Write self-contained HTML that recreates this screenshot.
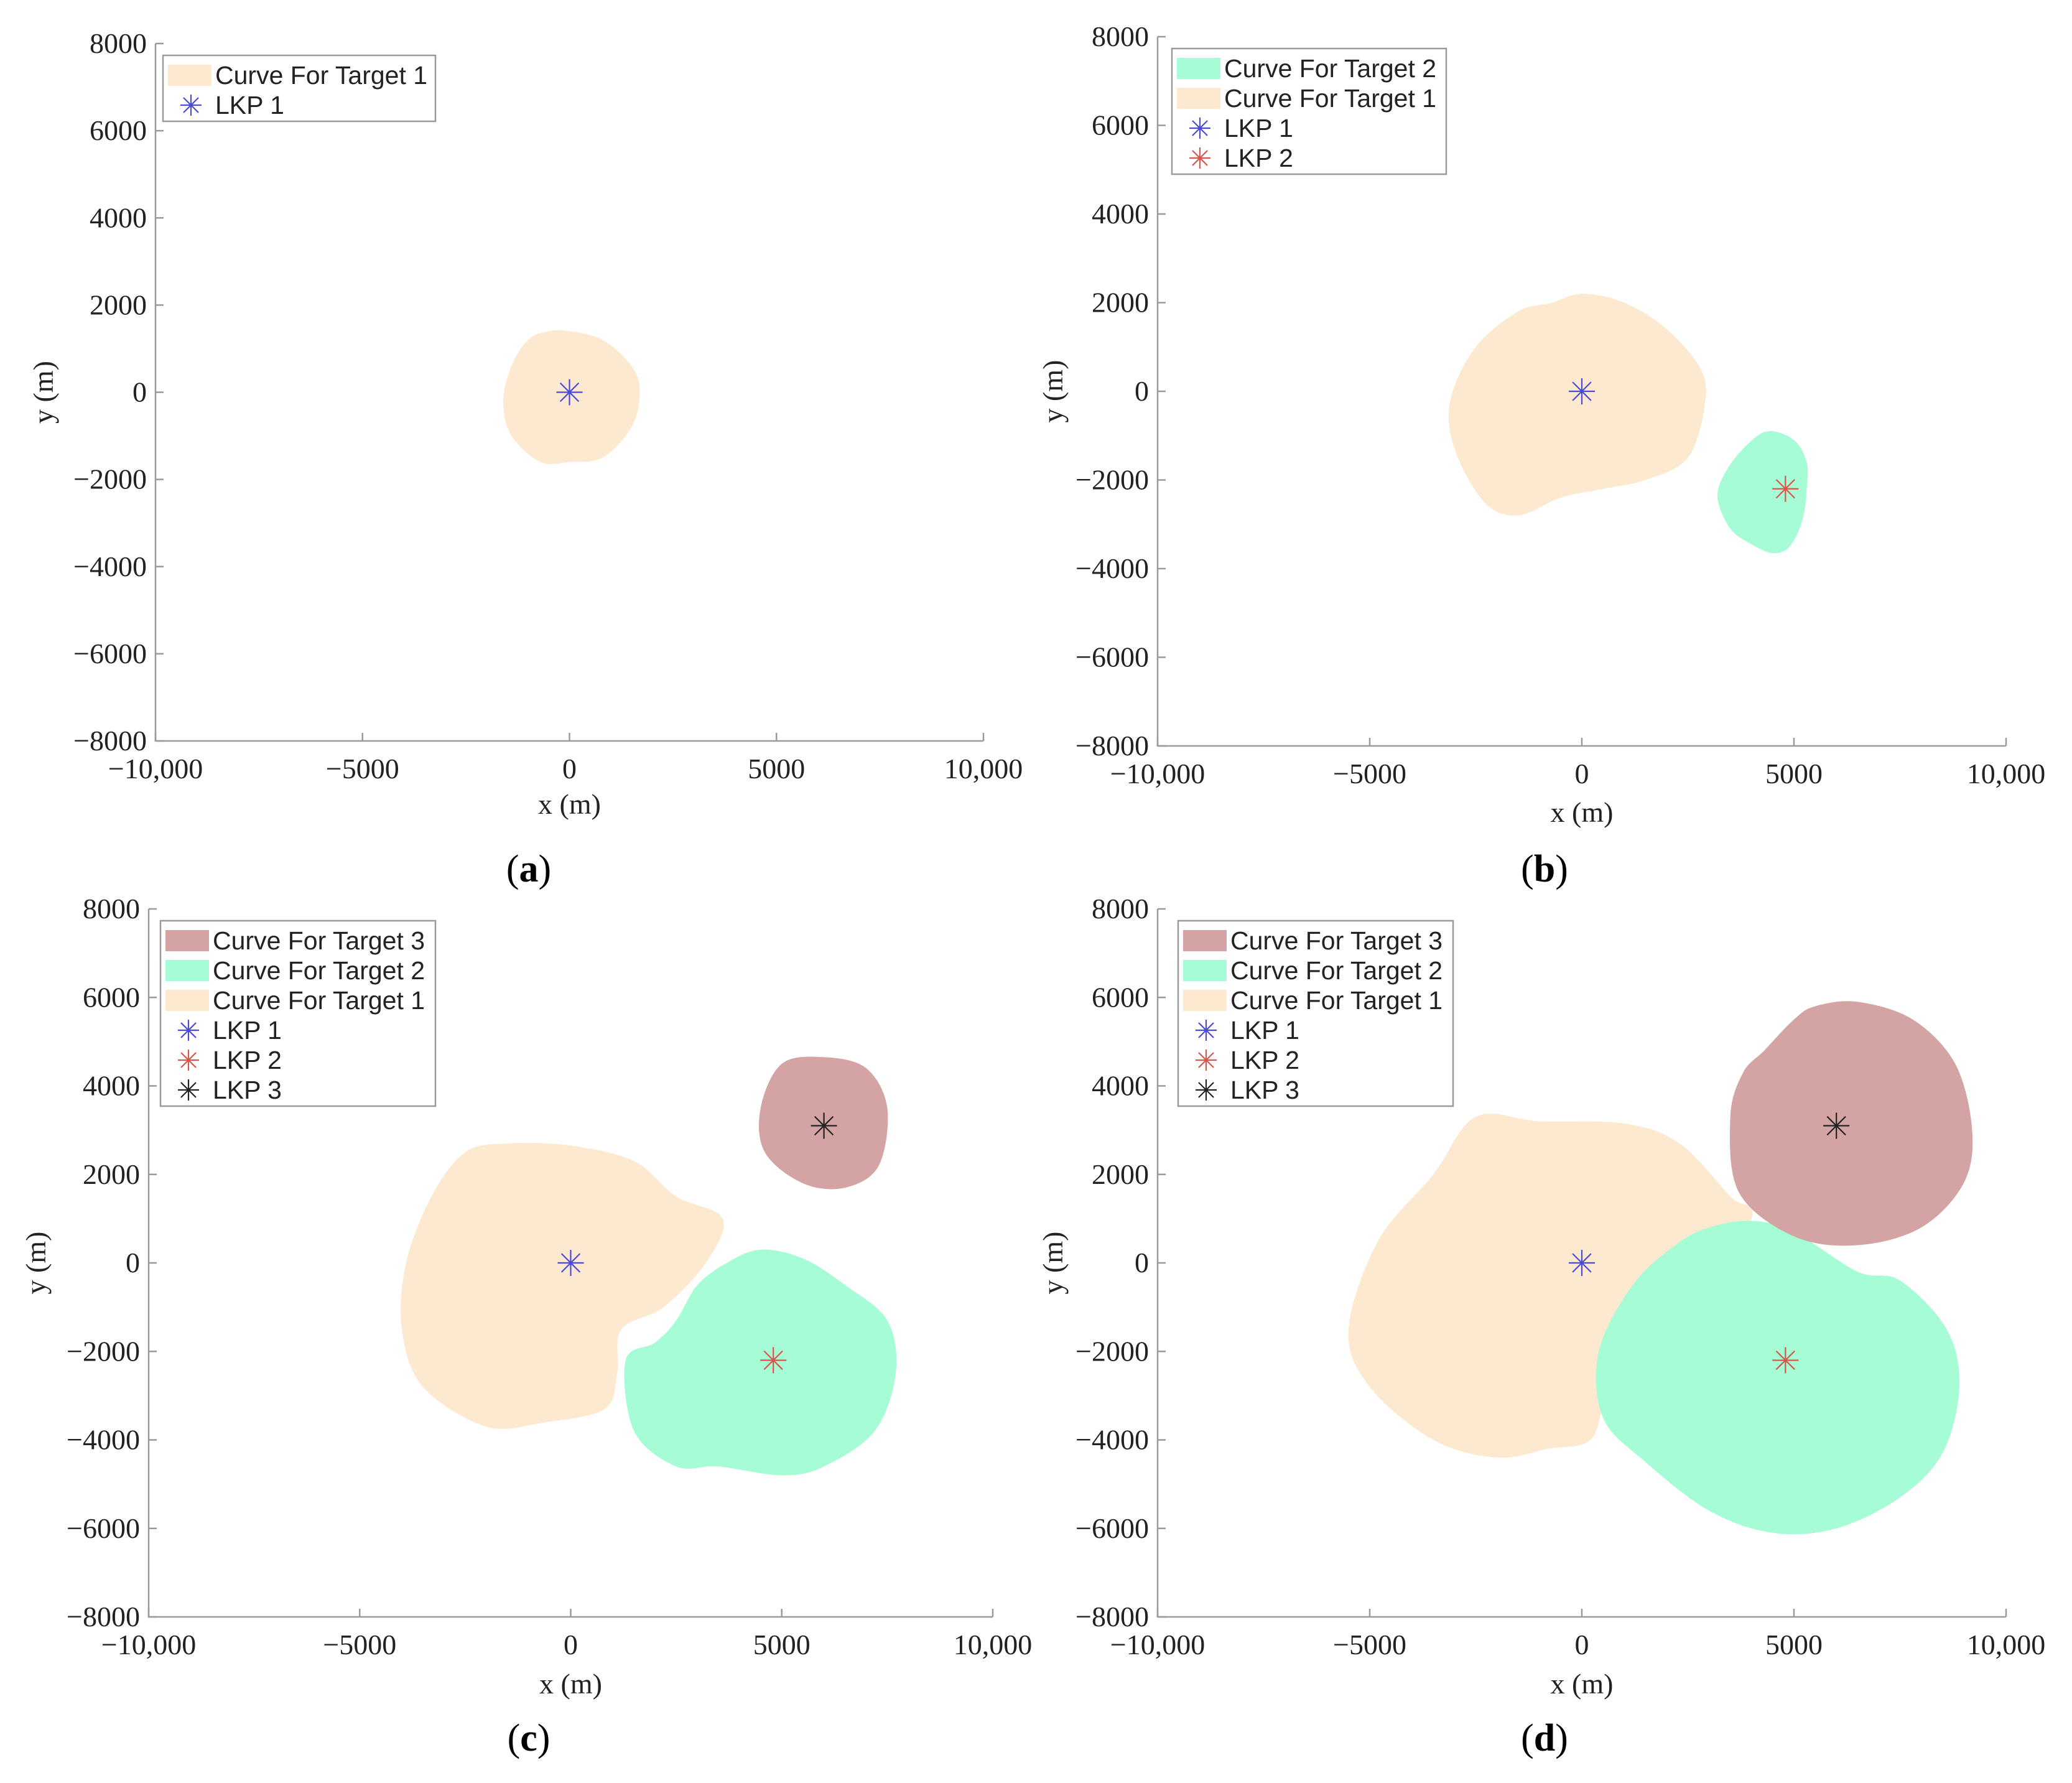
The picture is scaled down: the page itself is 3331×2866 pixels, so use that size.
<!DOCTYPE html>
<html><head><meta charset="utf-8"><style>
html,body{margin:0;padding:0;background:#fff;}
svg{display:block;}
.tk{font-family:"Liberation Serif",serif;font-size:46px;fill:#222;}
.lab{font-family:"Liberation Serif",serif;font-size:46px;fill:#222;}
.cap{font-family:"Liberation Serif",serif;font-size:62px;fill:#000;}
.lg{font-family:"Liberation Sans",sans-serif;font-size:41px;fill:#222;}
</style></head><body>
<svg id="fig" width="3331" height="2866" viewBox="0 0 3331 2866" xmlns="http://www.w3.org/2000/svg"></svg>
<script>
const xTicks=[-10000,-5000,0,5000,10000];
const xTickLabels=["\u221210,000","\u22125000","0","5000","10,000"];
const yTicks=[8000,6000,4000,2000,0,-2000,-4000,-6000,-8000];
const yTickLabels=["8000","6000","4000","2000","0","\u22122000","\u22124000","\u22126000","\u22128000"];
const lkp1=[0,0], lkp2=[4800,-2200], lkp3=[6000,3100];
const blobA1=[[0,1400],[800,1200],[1500,600],[1700,0],[1500,-800],[800,-1500],[0,-1600],[-700,-1600],[-1400,-1000],[-1600,-200],[-1400,600],[-1000,1200],[-500,1400]];
const blobB1=[[-1500,1800],[-700,2000],[0,2200],[1000,2000],[2000,1400],[2800,500],[2900,-300],[2500,-1500],[1500,-2000],[500,-2200],[-500,-2400],[-1500,-2800],[-2300,-2500],[-3000,-1300],[-3100,-200],[-2500,1000]];
const blobB2=[[4400,-900],[5000,-1100],[5300,-1600],[5300,-2200],[5200,-2900],[4900,-3500],[4500,-3650],[4000,-3450],[3500,-3100],[3200,-2400],[3400,-1800],[3900,-1200]];
const blobC1=[[-1500,2700],[0,2650],[1500,2300],[2500,1500],[3600,1000],[3200,0],[2200,-1000],[1200,-1500],[1100,-2500],[800,-3300],[-600,-3600],[-2000,-3700],[-3500,-2800],[-4000,-1500],[-3900,0],[-3300,1500],[-2500,2500]];
const blobC2=[[4500,300],[5500,100],[6500,-500],[7500,-1300],[7700,-2500],[7200,-3800],[6000,-4600],[5000,-4800],[3500,-4600],[2500,-4600],[1500,-3800],[1300,-2200],[2000,-1800],[2500,-1300],[3000,-500],[3700,0]];
const blobC3=[[5000,4500],[6000,4650],[7000,4400],[7500,3500],[7300,2200],[6500,1700],[5500,1800],[4600,2500],[4500,3500]];
const blobD1=[[-2500,3300],[-1000,3200],[1000,3150],[2300,2700],[3500,1500],[4000,1000],[2700,-1000],[1400,-2000],[600,-3000],[200,-4000],[-800,-4200],[-2000,-4400],[-3500,-4000],[-5000,-2800],[-5500,-1500],[-4800,500],[-3500,2000]];
const blobD2=[[4000,950],[5000,700],[6500,-200],[7500,-400],[8600,-1500],[8900,-2800],[8500,-4300],[7500,-5300],[6000,-6000],[4500,-6100],[3000,-5600],[1500,-4500],[500,-3500],[400,-2000],[1200,-500],[2200,400],[3000,800]];
const blobD3=[[5500,5800],[6500,5900],[7800,5500],[8800,4500],[9200,3000],[9000,1800],[8000,800],[6500,400],[5000,600],[3700,1600],[3500,3300],[3800,4300],[4300,4800],[5000,5500]];

const C1='#fde8d0',C2='#a6fcd4',C3='#d4a3a3';
const K1='#4a4ad8',K2='#d9544a',K3='#222';
const panels=[
 {id:'a',x0:250,x1:1581,y0:70,y1:1191,xl:1293,yl:70,cap:[850,1397],
  blobs:[[blobA1,C1,'target-1-region']],pts:[[lkp1,K1,'lkp-1']],
  legend:{x:262,y:89,w:438,rows:[['f',C1,'Curve For Target 1'],['m',K1,'LKP 1']]}},
 {id:'b',x0:1861,x1:3225,y0:59,y1:1199,xl:1306,yl:1693,cap:[2483,1397],
  blobs:[[blobB1,C1,'target-1-region'],[blobB2,C2,'target-2-region']],pts:[[lkp1,K1,'lkp-1'],[lkp2,K2,'lkp-2']],
  legend:{x:1884,y:78,w:441,rows:[['f',C2,'Curve For Target 2'],['f',C1,'Curve For Target 1'],['m',K1,'LKP 1'],['m',K2,'LKP 2']]}},
 {id:'c',x0:239,x1:1596,y0:1461,y1:2599,xl:2707,yl:58,cap:[850,2794],
  blobs:[[blobC1,C1,'target-1-region'],[blobC2,C2,'target-2-region'],[blobC3,C3,'target-3-region']],pts:[[lkp1,K1,'lkp-1'],[lkp2,K2,'lkp-2'],[lkp3,K3,'lkp-3']],
  legend:{x:258,y:1480,w:442,rows:[['f',C3,'Curve For Target 3'],['f',C2,'Curve For Target 2'],['f',C1,'Curve For Target 1'],['m',K1,'LKP 1'],['m',K2,'LKP 2'],['m',K3,'LKP 3']]}},
 {id:'d',x0:1861,x1:3225,y0:1461,y1:2599,xl:2707,yl:1693,cap:[2483,2794],
  blobs:[[blobD1,C1,'target-1-region'],[blobD2,C2,'target-2-region'],[blobD3,C3,'target-3-region']],pts:[[lkp1,K1,'lkp-1'],[lkp2,K2,'lkp-2'],[lkp3,K3,'lkp-3']],
  legend:{x:1894,y:1480,w:442,rows:[['f',C3,'Curve For Target 3'],['f',C2,'Curve For Target 2'],['f',C1,'Curve For Target 1'],['m',K1,'LKP 1'],['m',K2,'LKP 2'],['m',K3,'LKP 3']]}}
];
const NS='http://www.w3.org/2000/svg';
const svg=document.getElementById('fig');
function mk(tag,attrs,parent,text){const e=document.createElementNS(NS,tag);for(const k in attrs)e.setAttribute(k,attrs[k]);if(text!==undefined)e.textContent=text;(parent||svg).appendChild(e);return e;}
function smooth(pts){const n=pts.length;let d='M'+pts[0][0]+','+pts[0][1];
 for(let i=0;i<n;i++){const p0=pts[(i-1+n)%n],p1=pts[i],p2=pts[(i+1)%n],p3=pts[(i+2)%n];
  const c1=[p1[0]+(p2[0]-p0[0])/6,p1[1]+(p2[1]-p0[1])/6],c2=[p2[0]-(p3[0]-p1[0])/6,p2[1]-(p3[1]-p1[1])/6];
  d+=' C'+c1[0].toFixed(1)+','+c1[1].toFixed(1)+' '+c2[0].toFixed(1)+','+c2[1].toFixed(1)+' '+p2[0].toFixed(1)+','+p2[1].toFixed(1);}
 return d+'Z';}
function star(g,cx,cy,r,col){for(let k=0;k<4;k++){const a=k*Math.PI/4;
 const l=mk('line',{x1:cx-r*Math.cos(a),y1:cy-r*Math.sin(a),x2:cx+r*Math.cos(a),y2:cy+r*Math.sin(a),stroke:col,'stroke-width':2.2},g);
 
 }}
panels.forEach(p=>{
 const g=mk('g',{});
 
 
 const sx=v=>p.x0+(v+10000)/20000*(p.x1-p.x0);
 const sy=v=>p.y1-(v+8000)/16000*(p.y1-p.y0);
 p.blobs.forEach(b=>{const path=mk('path',{d:smooth(b[0].map(q=>[sx(q[0]),sy(q[1])])),fill:b[1]},g);
  
  });
 p.pts.forEach(q=>{const mg=mk('g',{},g);
  
  
  star(mg,sx(q[0][0]),sy(q[0][1]),21,q[1]);});
 const ax=mk('path',{d:`M${p.x0},${p.y0}V${p.y1}H${p.x1}`,fill:'none',stroke:'#9a9a9a','stroke-width':2.5},g);
 
 
 xTicks.forEach((t,i)=>{const x=sx(t);mk('line',{x1:x,y1:p.y1,x2:x,y2:p.y1-13,stroke:'#9a9a9a','stroke-width':2.5},g);
  const tx=mk('text',{x:x,y:p.y1+60,'text-anchor':'middle',class:'tk'},g,xTickLabels[i]);
  
  });
 yTicks.forEach((t,i)=>{const y=sy(t);mk('line',{x1:p.x0,y1:y,x2:p.x0+13,y2:y,stroke:'#9a9a9a','stroke-width':2.5},g);
  const tx=mk('text',{x:p.x0-14,y:y+15,'text-anchor':'end',class:'tk'},g,yTickLabels[i]);
  
  });
 const xl=mk('text',{x:(p.x0+p.x1)/2,y:p.xl+15,'text-anchor':'middle',class:'lab'},g,'x (m)');
 
 
 const ym=(p.y0+p.y1)/2;
 const yl=mk('text',{x:p.yl+15,y:ym,'text-anchor':'middle',class:'lab',transform:`rotate(-90 ${p.yl+15} ${ym})`},g,'y (m)');
 
 
 const cap=mk('text',{x:p.cap[0],y:p.cap[1]+20,'text-anchor':'middle',class:'cap'},g);
 
 
 mk('tspan',{},cap,'(');mk('tspan',{'font-weight':'bold'},cap,p.id);mk('tspan',{},cap,')');
 const L=p.legend,rh=48,h=L.rows.length*rh+10;
 const lg=mk('g',{},g);
 
 
 mk('rect',{x:L.x,y:L.y,width:L.w,height:h,fill:'#fff',stroke:'#9a9a9a','stroke-width':2.5},lg);
 L.rows.forEach((r,i)=>{const cy=L.y+8+rh*i+rh/2;
  const e=mk('g',{},lg);
  
  
  if(r[0]==='f')mk('rect',{x:L.x+8,y:cy-17,width:70,height:34,fill:r[1]},e);
  else star(e,L.x+45,cy,17,r[1]);
  mk('text',{x:L.x+84,y:cy+14,class:'lg'},e,r[2]);});
});
</script>
</body></html>
